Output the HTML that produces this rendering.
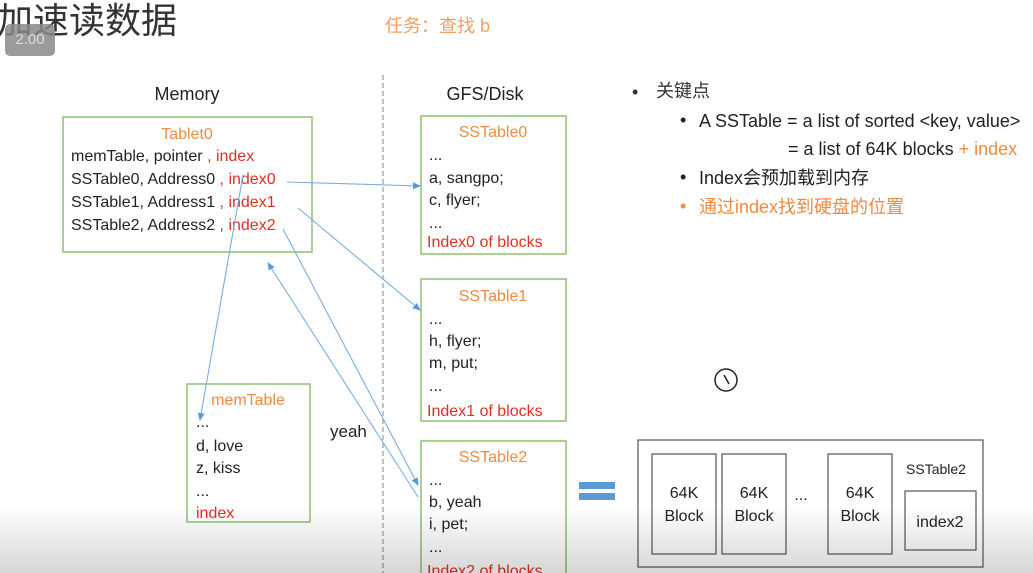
<!DOCTYPE html>
<html><head><meta charset="utf-8"><style>
html,body{margin:0;padding:0;background:#fff;}
svg{display:block}
text{font-family:"Liberation Sans","Noto Sans CJK SC",sans-serif;}
</style></head><body>
<svg width="1033" height="573" viewBox="0 0 1033 573" xmlns="http://www.w3.org/2000/svg">
<defs>
<marker id="a" markerWidth="8" markerHeight="8" refX="7" refY="4" orient="auto" markerUnits="userSpaceOnUse"><path d="M0,0.5 L8,4 L0,7.5z" fill="#5b9bd5"/></marker>
<linearGradient id="g" x1="0" y1="0" x2="0" y2="1"><stop offset="0" stop-color="#000" stop-opacity="0"/><stop offset="1" stop-color="#000" stop-opacity="0.16"/></linearGradient>
</defs>
<text x="-3" y="33" font-size="36" fill="#333" font-family="Noto Sans CJK SC, sans-serif">加速读数据</text>
<rect x="5" y="24" width="50" height="32" rx="5" fill="#8a8a8a" opacity="0.85"/>
<text x="30" y="44" font-size="15" fill="#ddd" text-anchor="middle">2.00</text>
<text x="385" y="32" font-size="18" fill="#f0a060">任务：查找 b</text>

<text x="187" y="100" font-size="18" fill="#222" text-anchor="middle">Memory</text>
<text x="485" y="100" font-size="18" fill="#222" text-anchor="middle">GFS/Disk</text>
<line x1="383" y1="75" x2="383" y2="573" stroke="#999" stroke-dasharray="5,3" stroke-width="1.2"/>

<g font-size="16">
<rect x="63" y="117" width="249" height="135" fill="none" stroke="#8fc070" stroke-width="1.5"/>
<text x="187" y="139" fill="#f08a40" text-anchor="middle">Tablet0</text>
<text x="71" y="161" fill="#222">memTable, pointer <tspan fill="#e03020">, index</tspan></text>
<text x="71" y="184" fill="#222">SSTable0, Address0 <tspan fill="#e03020">, index0</tspan></text>
<text x="71" y="207" fill="#222">SSTable1, Address1 <tspan fill="#e03020">, index1</tspan></text>
<text x="71" y="230" fill="#222">SSTable2, Address2 <tspan fill="#e03020">, index2</tspan></text>

<rect x="187" y="384" width="123" height="138" fill="none" stroke="#8fc070" stroke-width="1.5"/>
<text x="248" y="405" fill="#f08a40" text-anchor="middle">memTable</text>
<text x="196" y="427" fill="#222">...</text>
<text x="196" y="451" fill="#222">d, love</text>
<text x="196" y="473" fill="#222">z, kiss</text>
<text x="196" y="496" fill="#222">...</text>
<text x="196" y="518" fill="#e03020">index</text>

<text x="330" y="437" fill="#222" font-size="17">yeah</text>

<rect x="421" y="116" width="145" height="138" fill="none" stroke="#8fc070" stroke-width="1.5"/>
<text x="493" y="137" fill="#f08a40" text-anchor="middle">SSTable0</text>
<text x="429" y="160" fill="#222">...</text>
<text x="429" y="183" fill="#222">a, sangpo;</text>
<text x="429" y="205" fill="#222">c, flyer;</text>
<text x="429" y="228" fill="#222">...</text>
<text x="427" y="247" fill="#e03020">Index0 of blocks</text>

<rect x="421" y="279" width="145" height="142" fill="none" stroke="#8fc070" stroke-width="1.5"/>
<text x="493" y="301" fill="#f08a40" text-anchor="middle">SSTable1</text>
<text x="429" y="324" fill="#222">...</text>
<text x="429" y="346" fill="#222">h, flyer;</text>
<text x="429" y="368" fill="#222">m, put;</text>
<text x="429" y="391" fill="#222">...</text>
<text x="427" y="416" fill="#e03020">Index1 of blocks</text>

<rect x="421" y="441" width="145" height="140" fill="none" stroke="#8fc070" stroke-width="1.5"/>
<text x="493" y="462" fill="#f08a40" text-anchor="middle">SSTable2</text>
<text x="429" y="485" fill="#222">...</text>
<text x="429" y="507" fill="#222">b, yeah</text>
<text x="429" y="529" fill="#222">i, pet;</text>
<text x="429" y="552" fill="#222">...</text>
<text x="427" y="576" fill="#e03020">Index2 of blocks</text>
</g>

<g stroke="#7aaee0" stroke-width="1.1" fill="none">
<line x1="287" y1="182" x2="420" y2="186" marker-end="url(#a)"/>
<line x1="298" y1="208" x2="420" y2="310" marker-end="url(#a)"/>
<line x1="283" y1="229" x2="418" y2="485" marker-end="url(#a)"/>
<line x1="418" y1="497" x2="268" y2="263" marker-end="url(#a)"/>
<line x1="243" y1="175" x2="200" y2="420" marker-end="url(#a)"/>
</g>

<g font-size="18">
<text x="632" y="98" fill="#333">•</text><text x="656" y="97" fill="#333" font-family="Noto Sans CJK SC, sans-serif">关键点</text>
<text x="680" y="126" fill="#222">•</text><text x="699" y="127" fill="#222">A SSTable = a list of sorted &lt;key, value&gt;</text>
<text x="788" y="155" fill="#222">= a list of 64K blocks <tspan fill="#f08a40">+ index</tspan></text>
<text x="680" y="183" fill="#222">•</text><text x="699" y="184" fill="#222">Index会预加载到内存</text>
<text x="680" y="212" fill="#f08a40">•</text><text x="699" y="213" fill="#f08a40">通过index找到硬盘的位置</text>
</g>

<circle cx="726" cy="380" r="11" fill="none" stroke="#222" stroke-width="1.5"/>
<path d="M724,375 L729,384" stroke="#222" stroke-width="1.5"/>

<rect x="579" y="482" width="36" height="7" fill="#5b9bd5"/>
<rect x="579" y="493" width="36" height="7" fill="#5b9bd5"/>

<g fill="none" stroke="#555" stroke-width="1.2">
<rect x="638" y="440" width="345" height="127"/>
<rect x="652" y="454" width="64" height="100"/>
<rect x="722" y="454" width="64" height="100"/>
<rect x="828" y="454" width="64" height="100"/>
<rect x="905" y="491" width="71" height="59"/>
</g>
<g font-size="16" fill="#222" text-anchor="middle">
<text x="684" y="498">64K</text><text x="684" y="521">Block</text>
<text x="754" y="498">64K</text><text x="754" y="521">Block</text>
<text x="801" y="500">...</text>
<text x="860" y="498">64K</text><text x="860" y="521">Block</text>
<text x="940" y="527">index2</text>
<text x="936" y="474" font-size="14">SSTable2</text>
</g>
<rect x="0" y="505" width="1033" height="68" fill="url(#g)"/>
</svg>
</body></html>
